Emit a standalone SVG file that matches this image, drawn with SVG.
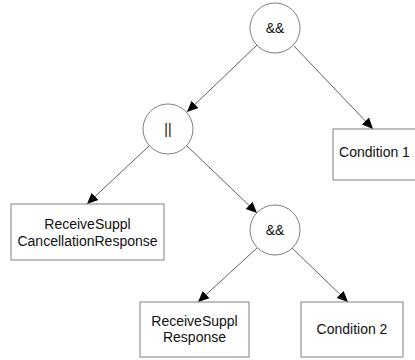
<svg xmlns="http://www.w3.org/2000/svg" width="415" height="360" viewBox="0 0 415 360">
<defs>
<style>
.n{fill:#fff;stroke:#808080;stroke-width:1}
.t{font-family:"Liberation Sans",Arial,sans-serif;font-size:14px;fill:#111;text-anchor:middle}
.e{stroke:#606060;stroke-width:1;fill:none;marker-end:url(#a)}
</style>
<marker id="a" viewBox="0 0 10 10" refX="10" refY="5" markerWidth="11" markerHeight="11" markerUnits="userSpaceOnUse" orient="auto">
<path d="M0,0.5 L10,5 L0,9.5 z" fill="#000"/>
</marker>
</defs>
<rect width="415" height="360" fill="#fff"/>
<g id="edges">
<line class="e" x1="257" y1="45" x2="187" y2="112"/>
<line class="e" x1="294" y1="46" x2="373" y2="129"/>
<line class="e" x1="149" y1="146" x2="87" y2="204"/>
<line class="e" x1="187" y1="146" x2="257" y2="213"/>
<line class="e" x1="257" y1="248" x2="198" y2="302"/>
<line class="e" x1="292" y1="248" x2="348" y2="302"/>
</g>
<g id="and1"><circle class="n" cx="275" cy="28" r="25"/><text class="t" x="275" y="33">&amp;&amp;</text></g>
<g id="or1"><circle class="n" cx="168" cy="129" r="25"/><text class="t" x="168" y="134">||</text></g>
<g id="cond1"><rect class="n" x="333" y="129" width="90" height="51"/><text class="t" x="374.5" y="157">Condition 1</text></g>
<g id="cancel"><rect class="n" x="11" y="204" width="153" height="56"/><text class="t" x="87.5" y="229">ReceiveSuppl</text><text class="t" x="87.5" y="246">CancellationResponse</text></g>
<g id="and2"><circle class="n" cx="275" cy="230" r="25"/><text class="t" x="275" y="235">&amp;&amp;</text></g>
<g id="resp"><rect class="n" x="140" y="302" width="109" height="55"/><text class="t" x="194.5" y="326">ReceiveSuppl</text><text class="t" x="194.5" y="342">Response</text></g>
<g id="cond2"><rect class="n" x="301" y="302" width="102" height="55"/><text class="t" x="352" y="334">Condition 2</text></g>
</svg>
